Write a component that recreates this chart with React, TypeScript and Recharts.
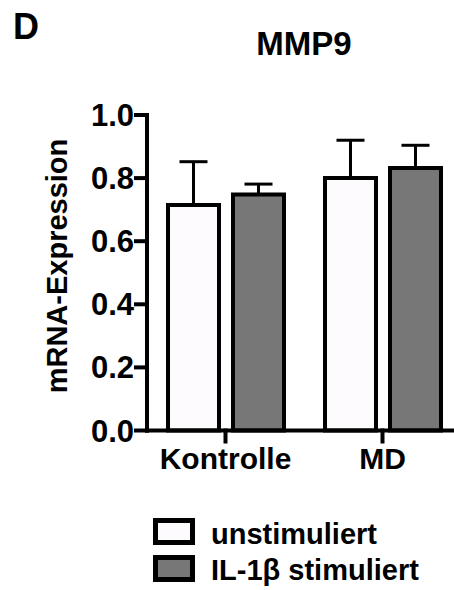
import { BarChart, Bar, XAxis, YAxis, ErrorBar } from 'recharts';

const FONT = '"Liberation Sans", Arial, Helvetica, sans-serif';

const categories = ['Kontrolle', 'MD'];
const unstimuliert = [0.715, 0.8];
const unstimuliertErr = [0.137, 0.12];
const stimuliert = [0.748, 0.832];
const stimuliertErr = [0.033, 0.072];
const yTicks = [0, 0.2, 0.4, 0.6, 0.8, 1.0];
const seriesNames = ['unstimuliert', 'IL-1β stimuliert'];
const seriesFills = ['#fdfbfd', '#777777'];

const data = categories.map((name, i) => ({
    name,
    u: unstimuliert[i],
    uErr: [0, unstimuliertErr[i]],
    s: stimuliert[i],
    sErr: [0, stimuliertErr[i]],
}));

const lineStyle = { stroke: '#000', strokeWidth: 4, strokeLinecap: 'square' as const };

const YLabel = () => (
    <text
        x={67}
        y={266}
        transform='rotate(-90 67 266)'
        textAnchor='middle'
        fontFamily={FONT}
        fontWeight={700}
        fontSize={29}
        fill='#000'
    >
        mRNA-Expression
    </text>
);

const App = () => {
    return (
        <div
            style={{
                position: 'absolute',
                left: 0,
                top: 0,
                width: 454,
                height: 590,
                overflow: 'hidden',
                background: '#fff',
                fontFamily: FONT,
            }}
        >
            <div
                style={{
                    position: 'absolute',
                    left: 13,
                    top: 8.5,
                    fontSize: 36,
                    lineHeight: '36px',
                    fontWeight: 700,
                }}
            >
                D
            </div>
            <div
                style={{
                    position: 'absolute',
                    left: 154,
                    width: 300,
                    top: 27,
                    textAlign: 'center',
                    fontSize: 33,
                    lineHeight: '33px',
                    fontWeight: 700,
                }}
            >
                MMP9
            </div>
            <BarChart
                width={454}
                height={590}
                data={data}
                margin={{ top: 115, right: -7, bottom: 99.5, left: 0 }}
                barSize={51}
                barGap={14}
            >
                <XAxis
                    dataKey='name'
                    interval={0}
                    height={60}
                    axisLine={lineStyle}
                    tickLine={lineStyle}
                    tickSize={11}
                    tickMargin={6}
                    tick={{ fill: '#000', fontSize: 30, fontWeight: 700, fontFamily: FONT }}
                />
                <YAxis
                    width={147}
                    domain={[0, 1]}
                    ticks={yTicks}
                    interval={0}
                    tickFormatter={(v: number) => v.toFixed(1)}
                    axisLine={lineStyle}
                    tickLine={lineStyle}
                    tickSize={11}
                    tickMargin={2}
                    tick={{ fill: '#000', fontSize: 31, fontWeight: 700, fontFamily: FONT }}
                    label={{ content: () => <YLabel /> }}
                />
                <Bar
                    dataKey='u'
                    name={seriesNames[0]}
                    fill={seriesFills[0]}
                    stroke='#000'
                    strokeWidth={4}
                    isAnimationActive={false}
                >
                    <ErrorBar dataKey='uErr' width={14} strokeWidth={3} stroke='#000' />
                </Bar>
                <Bar
                    dataKey='s'
                    name={seriesNames[1]}
                    fill={seriesFills[1]}
                    stroke='#000'
                    strokeWidth={4}
                    isAnimationActive={false}
                >
                    <ErrorBar dataKey='sErr' width={14} strokeWidth={3} stroke='#000' />
                </Bar>
            </BarChart>
            {seriesNames.map((n, i) => (
                <div key={n}>
                    <div
                        style={{
                            position: 'absolute',
                            left: 153,
                            top: 518 + i * 37,
                            width: 42,
                            height: 27,
                            boxSizing: 'border-box',
                            border: '5px solid #000',
                            background: seriesFills[i],
                        }}
                    />
                    <div
                        style={{
                            position: 'absolute',
                            left: 211,
                            top: 519.5 + i * 36.5,
                            fontSize: 29,
                            lineHeight: '29px',
                            fontWeight: 700,
                            whiteSpace: 'nowrap',
                        }}
                    >
                        {n}
                    </div>
                </div>
            ))}
        </div>
    );
};

export default App;
